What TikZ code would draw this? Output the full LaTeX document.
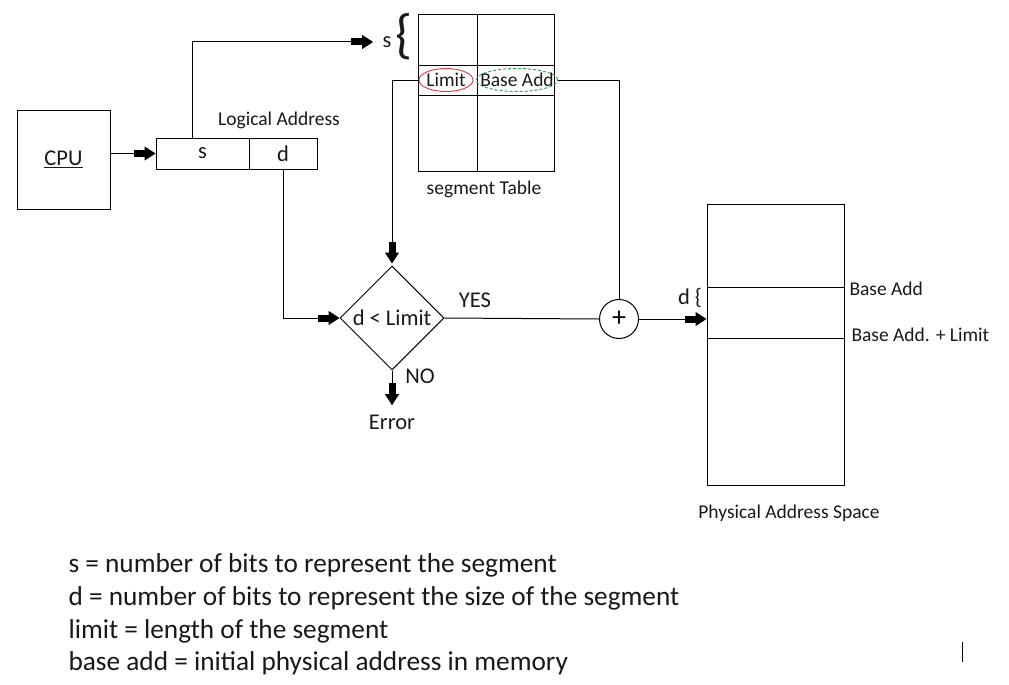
\documentclass[tikz,border=0pt]{standalone}
\usepackage{fontspec}
\setmainfont{Carlito}
\usetikzlibrary{arrows.meta,shapes.geometric}
\definecolor{txt}{RGB}{25,25,25}
\definecolor{limred}{RGB}{225,70,80}
\definecolor{basegreen}{RGB}{50,165,85}
\begin{document}
\begin{tikzpicture}[x=1pt,y=-1pt,line width=1pt,
    blk/.style={-{Rectangle[length=11pt,width=7pt]Triangle[length=11pt,width=14pt]}},
    lbl/.style={font=\fontsize{19.5}{21}\selectfont,text=txt,inner sep=0pt},
    big/.style={font=\fontsize{22.5}{24}\selectfont,text=txt},
    oval/.style={ellipse,lbl,inner xsep=-8pt,inner ysep=0pt,minimum height=23},
    note/.style={font=\fontsize{27.3}{30}\selectfont,text=txt,inner sep=0pt,anchor=base west}]
\useasboundingbox (0,0) rectangle (1009,685);

% cpu and logical address
\node[draw,big,minimum width=93,minimum height=99] (cpu) at (63.5,159.5) {\underline{CPU}};
\node[draw,big,minimum width=93,minimum height=31,inner sep=0] (ls) at (202.5,153.5) {s};
\node[draw,big,minimum width=68,minimum height=31,inner sep=0] (ld) at (283,153.5) {d};
\node[lbl] (lalbl) at (279,120) {Logical Address};

% segment table
\node[draw,minimum width=136,minimum height=156,inner sep=0] (segtab) at (486,93) {};
\draw (477,15) -- (477,171);
\draw (418,66) -- (554,66);
\draw (418,95) -- (554,95);
\node[oval,draw=limred,minimum width=54] (limit) at (446,80) {Limit};
\node[oval,draw=basegreen,densely dashed,minimum width=81] (base) at (517,80) {Base Add};
\node[lbl] (seglbl) at (484,189) {segment Table};
\node[text=txt,inner sep=0] (brace) at (404,37) {\fontsize{54}{54}\selectfont\{};
\node[big,inner sep=0] (stxt) at (387,42) {s};

% compare and add
\node[diamond,draw,big,minimum width=104,minimum height=104,inner sep=0] (cmp) at (392,318) {d < Limit};
\node[big,inner sep=0] (yes) at (475,300) {YES};
\node[big,inner sep=0] (no) at (420,376) {NO};
\node[big,inner sep=0] (err) at (392,422) {Error};
\node[circle,draw,minimum size=39,inner sep=0,font=\fontsize{28}{28}\selectfont] (plus) at (619,319) {+};

% physical memory
\node[draw,minimum width=137,minimum height=281,inner sep=0] (phys) at (775.5,344.5) {};
\draw (707,287) -- (844,287);
\draw (707,338) -- (844,338);
\node[lbl,anchor=west] (balbl) at (849,289) {Base Add};
\node[lbl,anchor=west] (bllbl) at (851,335) {Base Add. + Limit};
\node[big,inner sep=0] (dtxt) at (690,298) {d \{};
\node[lbl] (physlbl) at (789,513) {Physical Address Space};

% connectors
\draw[blk] (cpu.east |- ls.west) -- (ls.west);
\draw[blk] ([xshift=-10pt]ls.north) |- ([xshift=-9pt]stxt.west);
\draw[blk] (limit.west) -| ([yshift=2pt]cmp.north);
\draw (base.east) -| (plus.north);
\draw[blk] (ld.south) |- (cmp.west);
\draw (cmp.east) -- (plus.west);
\draw[blk] (plus.east) -- (plus.east -| phys.west);
\draw[blk] (cmp.south) -- ([yshift=9pt]err.north);

% notes
\node[note] (n1) at (68,572) {s = number of bits to represent the segment};
\node[note] (n2) at (68,605) {d = number of bits to represent the size of the segment};
\node[note] (n3) at (68,638) {limit = length of the segment};
\node[note] (n4) at (68,670) {base add = initial physical address in memory};
\draw (962,642) -- (962,662);
\end{tikzpicture}
\end{document}
